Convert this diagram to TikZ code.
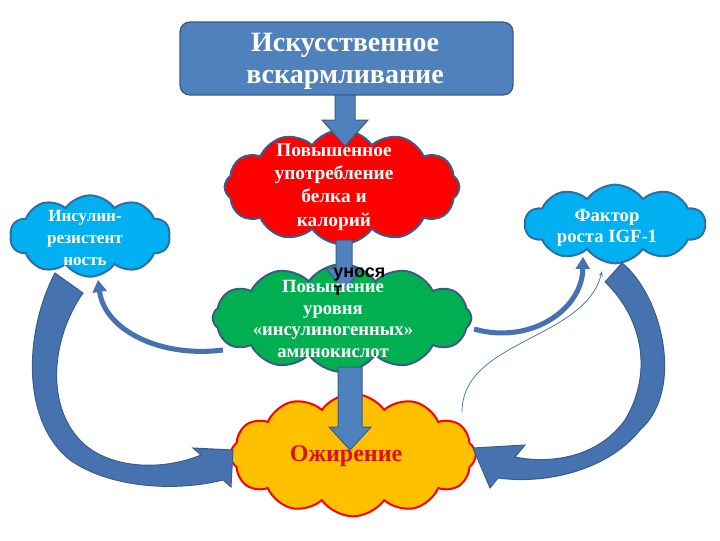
\documentclass[tikz,border=0pt]{standalone}
\usepackage{fontspec}
\setmainfont{Liberation Serif}
\newfontfamily\sansf{Liberation Sans}
\usetikzlibrary{shapes.symbols,arrows.meta}
\definecolor{boxblue}{HTML}{4F81BD}
\definecolor{boxedge}{HTML}{385D8A}
\definecolor{arrblue}{HTML}{4672B0}
\definecolor{cloudred}{HTML}{FF0000}
\definecolor{cloudgreen}{HTML}{00B050}
\definecolor{cloudorange}{HTML}{FFC000}
\definecolor{cloudsky}{HTML}{00B0F0}
\definecolor{skyedge}{HTML}{2F6FA8}
\definecolor{txtred}{HTML}{DD1111}
\definecolor{thinline}{HTML}{4A7EBB}
\newcommand\vblockarrow[6]{%
  \filldraw[blockarrow] ({#1-#5},#2) -- ({#1+#5},#2) -- ({#1+#5},#3) -- ({#1+#6},#3) -- (#1,#4) -- ({#1-#6},#3) -- ({#1-#5},#3) -- cycle;}
\begin{document}
\begin{tikzpicture}[x=0.75pt,y=-0.75pt,
  puffy/.style={shape=cloud, cloud puffs=12, cloud puff arc=110, cloud ignores aspect,
    draw=boxedge, line width=1.5pt, inner sep=0pt},
  lbl/.style={align=center, text=white, font=\bfseries\fontsize{14}{16.3}\selectfont},
  blockarrow/.style={fill=boxblue, draw=boxedge, line width=0.75pt, line join=miter},
  bigarrow/.style={fill=arrblue, draw=boxedge, line width=0.75pt, line join=miter},
  thinarrow/.style={draw=arrblue, line width=3.8pt, -{Triangle[length=9pt, width=11pt, line width=0pt]}},
  hairarrow/.style={draw=thinline, line width=0.6pt, -{Stealth[length=4pt, width=3pt]}}]
\useasboundingbox (0,0) rectangle (720,540);
% clouds
\node[puffy, fill=cloudred, minimum width=176pt, minimum height=86pt] (red) at (342,187) {};
\node[puffy, fill=cloudgreen, minimum width=194pt, minimum height=81pt] (green) at (342,318) {};
\node[puffy, fill=cloudorange, draw=cloudred, minimum width=184pt, minimum height=92pt] (orange) at (353,455) {};
\node[puffy, cloud puffs=10, fill=cloudsky, draw=skyedge, minimum width=120pt, minimum height=61pt] (left) at (90,236) {};
\node[puffy, cloud puffs=10, fill=cloudsky, draw=skyedge, minimum width=135pt, minimum height=59pt] (right) at (615,224) {};
% top box
\node[draw=boxedge, fill=boxblue, line width=1pt, rounded corners=7.5pt,
  minimum width=249.75pt, minimum height=54.75pt] (top) at (346.5,58.5) {};
% straight block arrows
\vblockarrow{345}{95}{120}{146}{10}{23}
\vblockarrow{344}{240}{268}{291}{8}{18}
\vblockarrow{350}{367}{427}{450}{12}{21}
% big curved arrow, left
\filldraw[bigarrow] (55,273) .. controls (25,330) and (20,420) .. (70,460)
  .. controls (110,488) and (175,492) .. (223,480) -- (231,487) -- (233,450) -- (193,448) -- (201,455)
  .. controls (165,470) and (115,470) .. (85,445) .. controls (45,410) and (50,340) .. (83,293) -- cycle;
% big curved arrow, right
\filldraw[bigarrow] (622,263) .. controls (662,295) and (685,390) .. (640,430)
  .. controls (610,468) and (550,485) .. (498,478) -- (490,488) -- (473,448) -- (525,445) -- (515,457)
  .. controls (555,465) and (600,455) .. (625,420) .. controls (655,370) and (640,315) .. (605,282) -- cycle;
% thin curved arrows
\coordinate (lt) at (223,350);
\coordinate (lh) at (98,280);
\draw[thinarrow] (lt) .. controls (160,358) and (105,330) .. (lh);
\coordinate (rt) at (474,329);
\coordinate (rh) at (583,257);
\draw[thinarrow] (rt) .. controls (530,345) and (582,310) .. (rh);
\coordinate (ht) at (462,412);
\coordinate (hh) at (602,271);
\draw[hairarrow] (ht) .. controls (462,340) and (585,340) .. (hh);
% texts
\node[lbl, font=\bfseries\fontsize{21}{24}\selectfont] (ttop) at (345,61) {Искусственное\\вскармливание};
\node[lbl, font=\bfseries\fontsize{14.5}{17.5}\selectfont] (tred) at (334,187) {Повышенное\\употребление\\белка и\\калорий};
\node[lbl] (tgreen) at (333,319) {Повышение\\уровня\\«инсулиногенных»\\аминокислот};
\node[lbl, font=\bfseries\fontsize{12.8}{16.3}\selectfont] (tleft) at (85,238) {Инсулин-\\резистент\\ность};
\node[lbl] (tright) at (607,228) {Фактор\\роста IGF-1};
\node[font=\bfseries\fontsize{18}{20}\selectfont, text=txtred] (torange) at (346,456) {Ожирение};
\node[anchor=base west, inner sep=0pt, font=\sansf\bfseries\fontsize{13.5}{16}\selectfont] (tuno) at (333,277) {унося};
\node[anchor=base west, inner sep=0pt, font=\sansf\bfseries\fontsize{13.5}{16}\selectfont] (tunot) at (333,295) {т};
\end{tikzpicture}
\end{document}
